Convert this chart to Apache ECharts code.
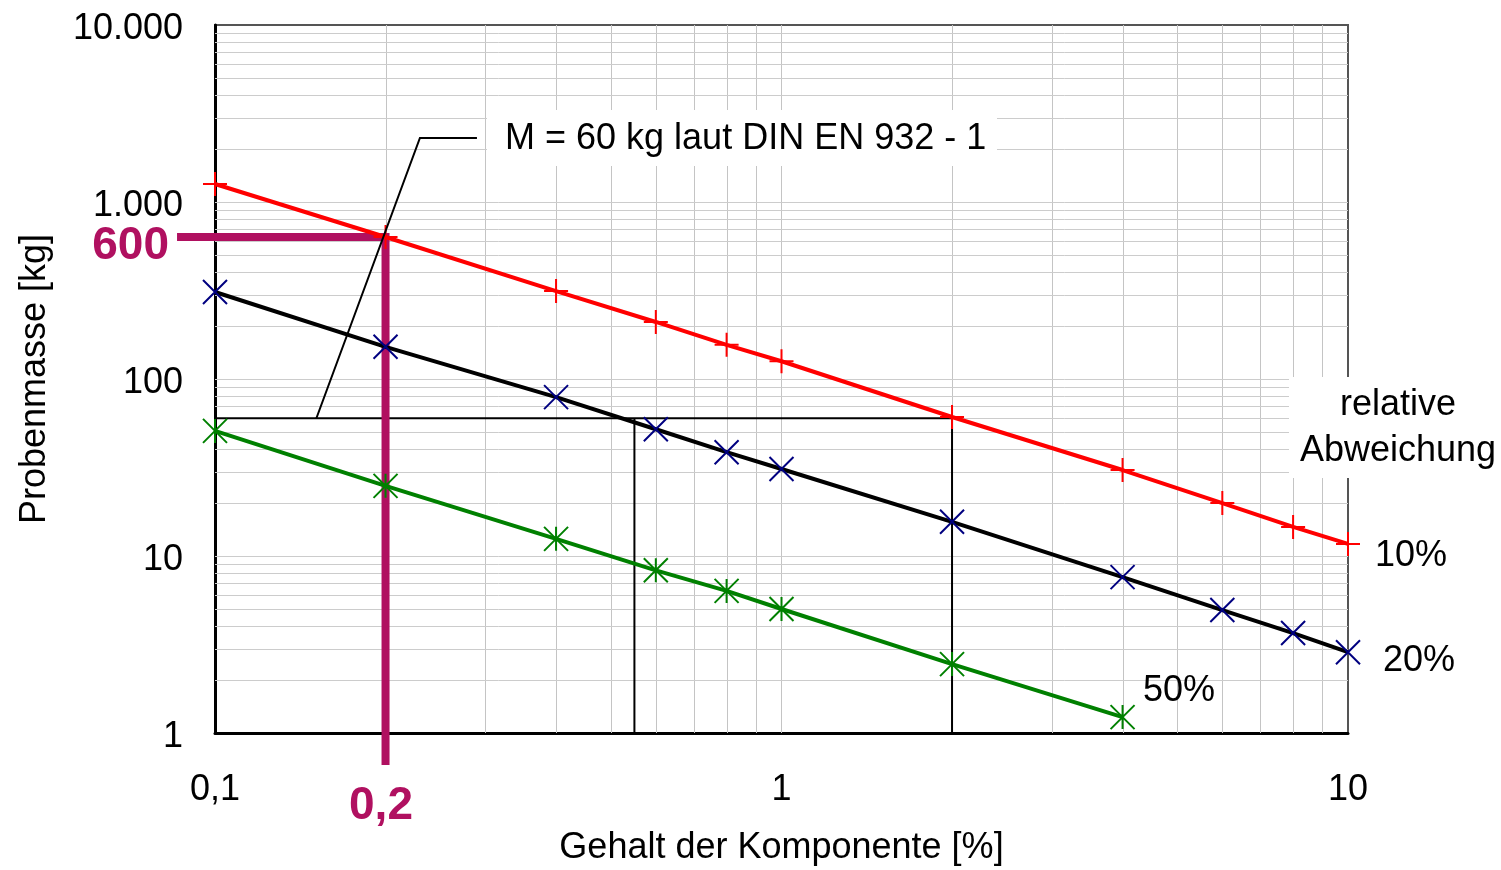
<!DOCTYPE html>
<html><head><meta charset="utf-8">
<script src="https://cdn.jsdelivr.net/npm/echarts@6/dist/echarts.min.js"></script>
<style>html,body{margin:0;padding:0;background:#fff}#c{width:1501px;height:870px}</style>
</head><body><div id="c"></div>
<script>
// ---- data ----
const xValues   = [0.1, 0.2, 0.4, 0.6, 0.8, 1, 2, 4, 6, 8, 10];
const red10     = [1264, 634, 314, 210, 156, 126, 61, 30.6, 19.9, 14.6, 11.7];
const black20   = [310, 152, 79, 52, 38.6, 31, 15.6, 7.6, 4.95, 3.67, 2.86];
const green50X  = [0.1, 0.2, 0.4, 0.6, 0.8, 1, 2, 4];
const green50   = [50.9, 24.9, 12.5, 8.3, 6.35, 5.02, 2.45, 1.23];
const seriesNames = ['10%', '20%', '50%'];
const xGridLines = [0.2,0.3,0.4,0.5,0.6,0.7,0.8,0.9,1,2,3,4,5,6,7,8,9];
const yGridLines = [2,3,4,5,6,7,8,9,10,20,30,40,50,60,70,80,90,100,200,300,400,500,600,700,800,900,1000,2000,3000,4000,5000,6000,7000,8000,9000];
// reference construction (M = 60 kg)
const refMass = 60;
const refXLow = 0.55, refXHigh = 2;
const refLine   = [[0.1, refMass], [refXHigh, refMass]];
const refDropLow  = [[refXLow, refMass], [refXLow, 1]];
const refDropHigh = [[refXHigh, refMass], [refXHigh, 1]];
const leaderLine  = [[0.151, refMass], [0.230, 2300], [0.290, 2300]];
// highlighted reading 0,2 % -> 600 kg
const purpleLine  = [[0.0857, 635], [0.2, 635], [0.2, 0.659]];

const FONT = "'Liberation Sans', Arial, sans-serif";
const PURPLE = '#b01060';

const chart = echarts.init(document.getElementById('c'), null, {renderer: 'canvas'});

function pairs(xs, ys){ return ys.map((y,i)=>[xs[i], y]); }

const plusSym  = 'path://M12 0 L12 24 M0 12 L24 12';
const xSym     = 'path://M0 0 L24 24 M24 0 L0 24';
const starSym  = 'path://M12 0 L12 24 M0 0 L24 24 M24 0 L0 24';

// polyline drawn through the axes' scales (custom series, not clipped)
function refSeries(points, color, width, z){
  return {type:'custom', silent:true, clip:false, z,
    data: points,
    renderItem:(params, api)=>{
      if (params.dataIndex !== 0) return null;
      const pts = points.map(p => api.coord(p));
      return {type:'polyline', shape:{points:pts}, style:{stroke:color, lineWidth:width, fill:null, lineJoin:'miter', lineCap:'butt'}};
    }};
}

const option = {
  animation: false,
  backgroundColor: '#fff',
  grid: {left:215, top:25, width:1133, height:708, containLabel:false, outerBoundsMode:'none',
         show:true, borderColor:'#555', borderWidth:2, backgroundColor:'transparent'},
  xAxis: {
    type:'log', logBase:10, min:0.1, max:10,
    axisLine:{show:true, onZero:false, lineStyle:{color:'#000', width:3}},
    axisTick:{show:false}, splitLine:{show:false}, minorSplitLine:{show:false},
    axisLabel:{fontSize:36, color:'#000', fontFamily:FONT, margin:39,
      formatter: v => String(+v.toPrecision(6)).replace('.', ',')},
    name:'Gehalt der Komponente [%]', nameLocation:'middle', nameGap:97,
    nameTextStyle:{fontSize:36, color:'#000', fontFamily:FONT}
  },
  yAxis: {
    type:'log', logBase:10, min:1, max:10000,
    axisLine:{show:true, onZero:false, lineStyle:{color:'#000', width:3}},
    axisTick:{show:false}, splitLine:{show:false},
    axisLabel:{fontSize:36, color:'#000', fontFamily:FONT, margin:32,
      rich:{t:{fontSize:36, color:'#000', fontFamily:FONT, padding:[8,0,0,0]}},
      formatter: v => '{t|' + String(Math.round(v)).replace(/\B(?=(\d{3})+(?!\d))/g, '.') + '}'},
    name:'Probenmasse [kg]', nameLocation:'middle', nameGap:162, nameRotate:90,
    nameTextStyle:{fontSize:36, color:'#000', fontFamily:FONT}
  },
  series: [
    {type:'custom', silent:true, z:1, clip:false,
     data: xGridLines.map(v=>[v, 1]),
     renderItem:(params, api)=>{
       const p = api.coord([api.value(0), api.value(1)]);
       const cs = params.coordSys; const x = Math.round(p[0]) + 0.5;
       return {type:'line', shape:{x1:x, y1:cs.y, x2:x, y2:cs.y+cs.height}, style:{stroke:'#c4c4c4', lineWidth:1}};
     }},
    {type:'custom', silent:true, z:1, clip:false,
     data: yGridLines.map(v=>[0.1, v]),
     renderItem:(params, api)=>{
       const p = api.coord([api.value(0), api.value(1)]);
       const cs = params.coordSys; const y = Math.round(p[1]) + 0.5;
       return {type:'line', shape:{x1:cs.x, y1:y, x2:cs.x+cs.width, y2:y}, style:{stroke:'#cccccc', lineWidth:1}};
     }},
    refSeries(refLine, '#000', 2, 2),
    refSeries(refDropLow, '#000', 2, 2),
    refSeries(refDropHigh, '#000', 2, 2),
    refSeries(purpleLine, PURPLE, 8, 3),
    {name:seriesNames[0], type:'line', data:pairs(xValues, red10), z:5,
     symbol:plusSym, symbolSize:24, showAllSymbol:true,
     lineStyle:{color:'#ff0000', width:4}, itemStyle:{color:'#ff0000', borderColor:'#ff0000', borderWidth:2}},
    {name:seriesNames[1], type:'line', data:pairs(xValues, black20), z:5,
     symbol:xSym, symbolSize:24, showAllSymbol:true,
     lineStyle:{color:'#000000', width:4}, itemStyle:{color:'#000080', borderColor:'#000080', borderWidth:2}},
    {name:seriesNames[2], type:'line', data:pairs(green50X, green50), z:5,
     symbol:starSym, symbolSize:24, showAllSymbol:true,
     lineStyle:{color:'#008000', width:4}, itemStyle:{color:'#008000', borderColor:'#008000', borderWidth:2}},
    refSeries(leaderLine, '#000', 2, 8)
  ],
  graphic: [
    {type:'rect', z:50, shape:{x:487, y:110, width:510, height:56}, style:{fill:'#fff'}},
    {type:'text', z:51, x:505, y:139, style:{text:'M = 60 kg laut DIN EN 932 - 1', font:'36px '+FONT, fill:'#000', verticalAlign:'middle', align:'left'}},
    {type:'rect', z:50, shape:{x:1289, y:377, width:212, height:101}, style:{fill:'#fff'}},
    {type:'text', z:51, x:1398, y:405, style:{text:'relative', font:'36px '+FONT, fill:'#000', verticalAlign:'middle', align:'center'}},
    {type:'text', z:51, x:1398, y:451, style:{text:'Abweichung', font:'36px '+FONT, fill:'#000', verticalAlign:'middle', align:'center'}},
    {type:'text', z:51, x:1375, y:556, style:{text:seriesNames[0], font:'36px '+FONT, fill:'#000', verticalAlign:'middle', align:'left'}},
    {type:'text', z:51, x:1383, y:661, style:{text:seriesNames[1], font:'36px '+FONT, fill:'#000', verticalAlign:'middle', align:'left'}},
    {type:'text', z:51, x:1143, y:691, style:{text:seriesNames[2], font:'36px '+FONT, fill:'#000', verticalAlign:'middle', align:'left'}},
    {type:'text', z:51, x:169, y:246, style:{text:'600', font:'bold 46px '+FONT, fill:PURPLE, verticalAlign:'middle', align:'right'}},
    {type:'text', z:51, x:381, y:806, style:{text:'0,2', font:'bold 46px '+FONT, fill:PURPLE, verticalAlign:'middle', align:'center'}}
  ]
};
chart.setOption(option);
</script>
</body></html>
